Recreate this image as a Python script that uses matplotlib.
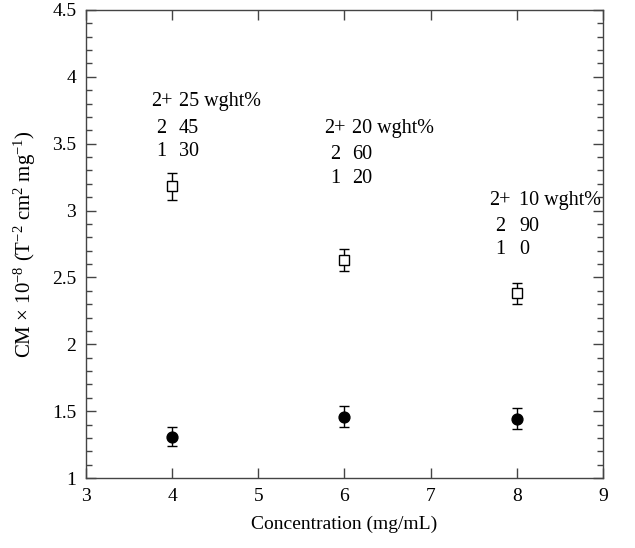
import matplotlib
matplotlib.use("Agg")
import matplotlib.pyplot as plt
from matplotlib.ticker import MultipleLocator, FuncFormatter

plt.rcParams['font.family'] = ['Liberation Serif', 'DejaVu Serif']
plt.rcParams['mathtext.fontset'] = 'custom'
plt.rcParams['mathtext.rm'] = 'Liberation Serif'
plt.rcParams['mathtext.it'] = 'Liberation Serif:italic'

# Data
concentration = [4, 6, 8]
cm_open = [3.18, 2.63, 2.38]
cm_open_err = [0.10, 0.085, 0.08]
cm_filled = [1.31, 1.46, 1.445]
cm_filled_err = [0.07, 0.08, 0.08]

ann_row1 = ["2+", "2+", "2+"]
ann_row1_val = ["25 wght%", "20 wght%", "10 wght%"]
ann_row2 = ["2", "2", "2"]
ann_row2_val = ["45", "60", "90"]
ann_row3 = ["1", "1", "1"]
ann_row3_val = ["30", "20", "0"]

# label layout (data coords)
ann_xc = [3.876, 5.890, 7.804]
ann_xl = [4.079, 6.083, 8.025]
ann_y = [(3.815, 3.616, 3.441), (3.616, 3.416, 3.242), (3.079, 2.880, 2.711)]

fig = plt.figure(figsize=(6.35, 5.48), dpi=100)
ax = fig.add_axes([0.1354, 0.1277, 0.9496 - 0.1354, 0.9818 - 0.1277])

ax.errorbar(concentration, cm_open, yerr=cm_open_err, fmt='s', mfc='white',
            mec='black', ms=7, mew=1.0, ecolor='black', elinewidth=1.0,
            capsize=3.5, capthick=1.0, color='black', zorder=3)
ax.errorbar(concentration, cm_filled, yerr=cm_filled_err, fmt='o', mfc='black',
            mec='black', ms=7.8, ecolor='black', elinewidth=1.0,
            capsize=3.5, capthick=1.0, color='black', zorder=3)

fs = 14.5
for i in range(3):
    y1, y2, y3 = ann_y[i]
    ax.text(ann_xc[i], y1, ann_row1[i], ha='center', va='center', fontsize=fs)
    ax.text(ann_xl[i], y1, ann_row1_val[i], ha='left', va='center', fontsize=fs)
    ax.text(ann_xc[i], y2, ann_row2[i], ha='center', va='center', fontsize=fs)
    ax.text(ann_xl[i], y2, ann_row2_val[i], ha='left', va='center', fontsize=fs)
    ax.text(ann_xc[i], y3, ann_row3[i], ha='center', va='center', fontsize=fs)
    ax.text(ann_xl[i], y3, ann_row3_val[i], ha='left', va='center', fontsize=fs)

ax.set_xlim(3, 9)
ax.set_ylim(1, 4.5)
ax.xaxis.set_major_locator(MultipleLocator(1))
ax.yaxis.set_major_locator(MultipleLocator(0.5))
ax.yaxis.set_minor_locator(MultipleLocator(0.1))
ax.yaxis.set_major_formatter(FuncFormatter(lambda v, p: f"{v:g}"))

ax.tick_params(which='both', direction='in', top=True, right=True,
               labelsize=14, color='#444444', pad=7)
ax.tick_params(which='major', length=7, width=1.0)
ax.tick_params(which='minor', length=4, width=1.0)
for s in ax.spines.values():
    s.set_color('#444444')
    s.set_linewidth(1.0)

ax.set_xlabel('Concentration (mg/mL)', fontsize=14, labelpad=8)
ax.set_ylabel(r'CM $\times$ 10$^{-8}$ (T$^{-2}$ cm$^{2}$ mg$^{-1}$)', fontsize=15, labelpad=10)

fig.savefig('out.png', dpi=100)
